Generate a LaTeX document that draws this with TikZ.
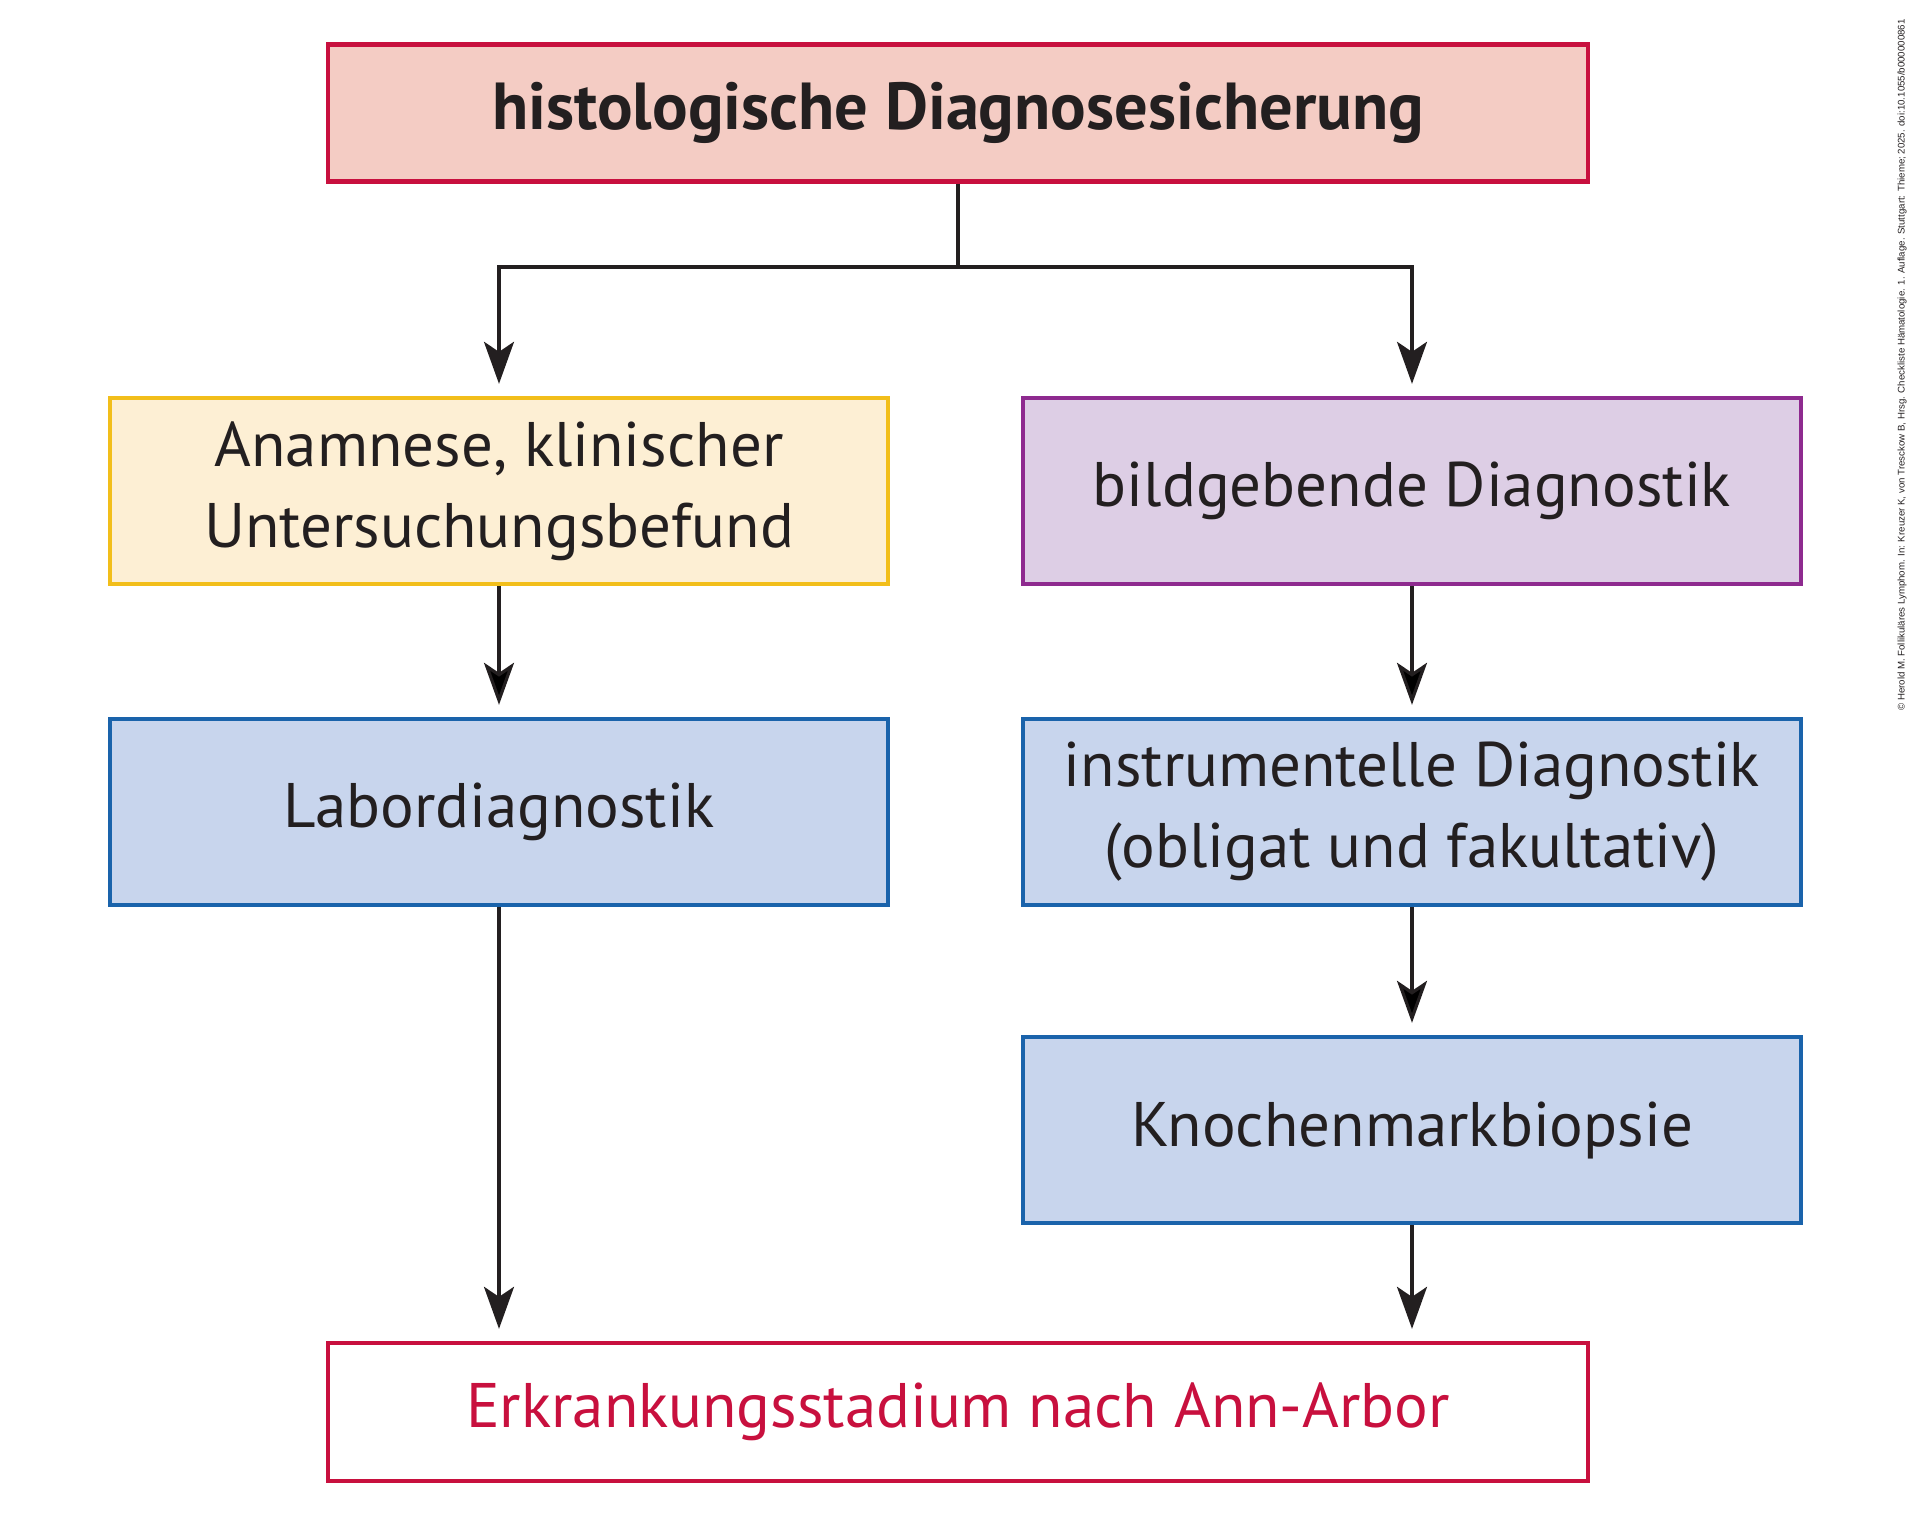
\documentclass[tikz,border=0pt]{standalone}
\usepackage{fontspec}
\setmainfont{PT Sans}
\newfontfamily\quellfont{Liberation Sans}
\usetikzlibrary{arrows.meta}

\definecolor{dunkel}{HTML}{231F20}
\definecolor{rotrand}{HTML}{C8103E}
\definecolor{rotfill}{HTML}{F4CCC4}
\definecolor{gelbrand}{HTML}{F2BE1A}
\definecolor{gelbfill}{HTML}{FDEFD4}
\definecolor{lilarand}{HTML}{8E2A8F}
\definecolor{lilafill}{HTML}{DDCEE5}
\definecolor{blaurand}{HTML}{1A63AB}
\definecolor{blaufill}{HTML}{C8D5ED}

\begin{document}
\begin{tikzpicture}[x=0.01cm,y=-0.01cm]
\tikzset{box/.style = {draw, line width=1.2pt, minimum width=7.78cm, minimum height=1.86cm,
    align=center, text=dunkel, font=\fontsize{17.9}{23}\selectfont},
  bluebox/.style = {box, draw=blaurand, fill=blaufill},
  pfeil/.style = {-{Stealth[length=0.42cm,width=0.30cm,inset=0.1cm]}, line width=0.9pt,
    draw=dunkel, shorten >=0.12cm}}

\useasboundingbox (0,0) rectangle (1918,1536);

\node[box, draw=rotrand, fill=rotfill, minimum width=12.6cm, minimum height=1.37cm,
  font=\fontsize{18.9}{23}\selectfont\bfseries] (histo) at (958,113) {histologische Diagnosesicherung};
\node[box, draw=gelbrand, fill=gelbfill] (anam) at (499,491) {Anamnese, klinischer\\Untersuchungsbefund};
\node[box, draw=lilarand, fill=lilafill] (bild) at (1412,491) {bildgebende Diagnostik};
\node[bluebox] (labor) at (499,812) {Labordiagnostik};
\node[bluebox] (instr) at (1412,812) {instrumentelle Diagnostik\\(obligat und fakultativ)};
\node[bluebox] (knochen) at (1412,1130) {Knochenmarkbiopsie};
\node[box, draw=rotrand, fill=white, text=rotrand, minimum width=12.6cm, minimum height=1.38cm] (stadium) at (958,1412) {Erkrankungsstadium nach Ann-Arbor};

\node[rotate=90, inner sep=0pt, text=dunkel, font=\quellfont\fontsize{2.75}{3}\selectfont] (quelle) at (1902,365)
  {© Herold M. Follikuläres Lymphom. In: Kreuzer K, von Tresckow B, Hrsg. Checkliste Hämatologie. 1. Auflage. Stuttgart: Thieme; 2025. doi:10.1055/b000000861};

\coordinate (split) at (958,267);
\draw[line width=0.9pt, dunkel] (histo) -- (split);
\draw[pfeil] (split) -| (anam);
\draw[pfeil] (split) -| (bild);

\path[pfeil]
(anam) edge (labor)
(bild) edge (instr)
(instr) edge (knochen)
;
\draw[pfeil] (labor) -- (labor |- stadium.north);
\draw[pfeil] (knochen) -- (knochen |- stadium.north);

\end{tikzpicture}
\end{document}
